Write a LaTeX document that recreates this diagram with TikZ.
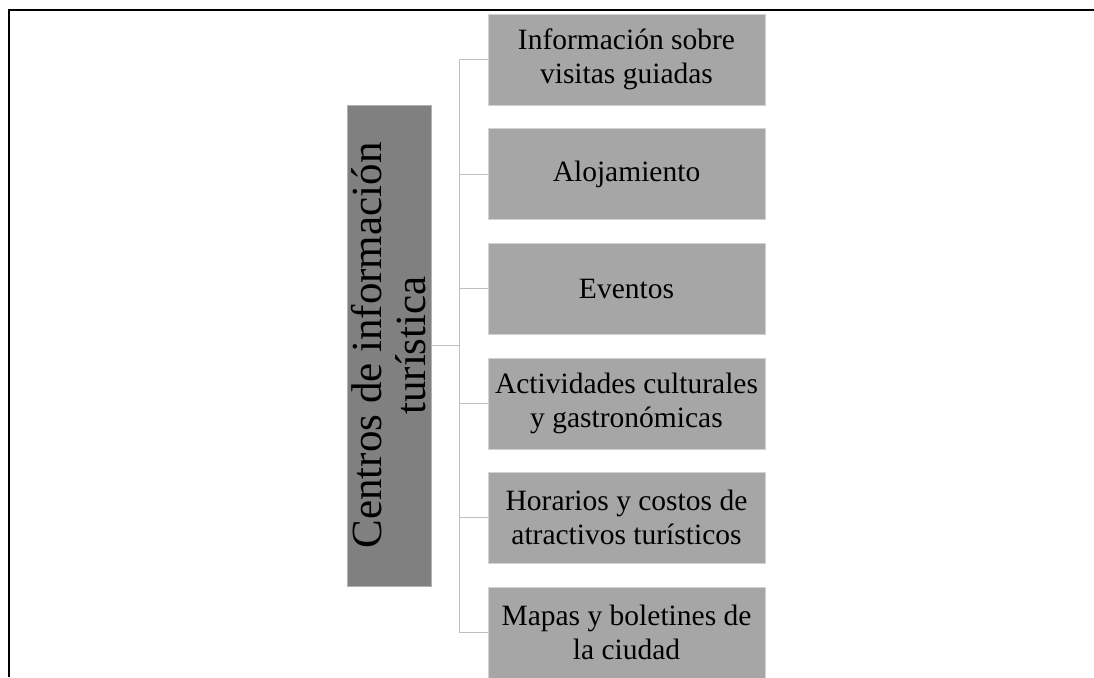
\documentclass[tikz,border=0pt]{standalone}
\usepackage{fontspec}
\setmainfont{Liberation Serif}
\usetikzlibrary{positioning,calc}

\definecolor{boxgray}{HTML}{A6A6A6}
\definecolor{maingray}{HTML}{808080}
\definecolor{linkgray}{HTML}{BFBFBF}

\tikzset{
  itembox/.style={draw=gray!35, fill=boxgray, minimum width=277pt, minimum height=91pt,
    inner sep=0pt, align=center, font=\fontsize{29.5}{34}\selectfont},
  mainbox/.style={draw=gray!60, fill=maingray, rotate=90, minimum width=481pt,
    minimum height=84pt, inner sep=0pt, align=center, font=\fontsize{43}{44}\selectfont},
  link/.style={draw=linkgray, line width=1pt}
}

\begin{document}
\begin{tikzpicture}[x=1pt, y=1pt]

\useasboundingbox (0,0) rectangle (1094,677);
\clip (0,0) rectangle (1094,677);

% frame
\draw[line width=2pt] (9,0) -- (9,667) -- (1094,667);

\node[mainbox] (main) at (389,331.5) {Centros de información\\turística};

\coordinate (trunk) at (459,331.5);
\draw[link] (main.south) -- (trunk);

\foreach \i/\txt in {1/{Información sobre\\visitas guiadas},
                     2/{Alojamiento},
                     3/{Eventos},
                     4/{Actividades culturales\\y gastronómicas},
                     5/{Horarios y costos de\\atractivos turísticos},
                     6/{Mapas y boletines de\\la ciudad}}{
  \node[itembox] (c\i) at (626.5,{617.5-114.6*(\i-1)}) {\txt};
  \draw[link] (trunk |- c\i.west) -- (c\i.west);
}

\draw[link] (trunk |- c1.west) -- (trunk |- c6.west);

\end{tikzpicture}
\end{document}
